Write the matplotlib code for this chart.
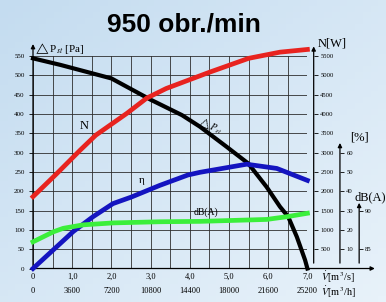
import numpy as np
import matplotlib
matplotlib.use("Agg")
import matplotlib.pyplot as plt

# curves, x = flow in m3/s
dp_x = [0, 0.7, 2.0, 3.0, 3.8, 4.26, 4.94, 5.49, 5.96, 6.30, 6.51, 6.73, 6.94, 7.0]
dp_pa = [544, 527, 492, 437, 397, 367, 315, 272, 211, 160, 134, 82, 22, 0]

n_x = [0, 0.6, 1.2, 1.6, 2.4, 2.9, 3.4, 4.5, 5.5, 6.3, 7.0]
n_w = [1860, 2450, 3060, 3450, 4020, 4410, 4660, 5080, 5440, 5600, 5670]

eta_x = [0, 1.03, 1.53, 2.04, 2.51, 3.23, 3.95, 4.26, 5.45, 6.22, 7.0]
eta_pct = [0, 19.2, 26.8, 33.6, 37.0, 43.0, 48.4, 49.8, 54.0, 51.8, 45.6]

db_x = [0, 0.52, 0.77, 1.28, 2.04, 3.23, 4.26, 5.96, 6.47, 7.0]
db_val = [85.95, 87.25, 87.7, 88.15, 88.4, 88.55, 88.6, 88.85, 89.2, 89.65]

# axis ticks
x_major = [0, 1, 2, 3, 4, 5, 6, 7]
m3s_labels = ["0", "1,0", "2,0", "3,0", "4,0", "5,0", "6,0", "7,0"]
m3h_labels = ["0", "3600", "7200", "10800", "14400", "18000", "21600", "25200"]
pa_ticks = list(range(0, 551, 50))
w_ticks = list(range(500, 5501, 500))
pct_ticks = [10, 20, 30, 40, 50, 60]
db_ticks = [85, 90]

serif = ["Liberation Serif", "DejaVu Serif"]
plt.rcParams["mathtext.fontset"] = "stix"

fig = plt.figure(figsize=(3.86, 3.02), dpi=100)

# light blue background
bg = fig.add_axes([0, 0, 1, 1], zorder=-10)
gx, gy = np.meshgrid(np.linspace(0, 1, 50), np.linspace(0, 1, 50))
g = 0.5 * gx + 0.5 * gy
c0 = np.array([196, 220, 240]) / 255
c1 = np.array([232, 242, 250]) / 255
img = c0[None, None, :] * (1 - g[..., None]) + c1[None, None, :] * g[..., None]
bg.imshow(img, aspect="auto", extent=[0, 1, 0, 1])
bg.axis("off")

ax = fig.add_axes([0.0855, 0.1109, 0.7109, 0.7036])
ax.set_facecolor("none")
ax.set_xlim(0, 7)
ax.set_ylim(0, 550)
for s in ax.spines.values():
    s.set_visible(False)

ax.set_xticks(x_major, labels=m3s_labels, fontfamily=serif, fontsize=6)
ax.set_xticks(np.arange(0, 7.01, 0.5), minor=True)
ax.set_yticks(pa_ticks, labels=[str(v) for v in pa_ticks], fontfamily=serif, fontsize=5)
ax.tick_params(axis="x", which="both", length=0, pad=3)
ax.tick_params(axis="y", length=3, width=0.6, pad=3, direction="out")
ax.grid(True, which="both", color="#2e2e2e", lw=0.6)

sec = ax.secondary_xaxis("bottom")
sec.set_xticks(x_major, labels=m3h_labels, fontfamily=serif, fontsize=6)
sec.tick_params(length=0, pad=13.5)
sec.spines["bottom"].set_visible(False)

# extra vertical scales on the right
def side_axis(pos, lims, ticks):
    a = ax.twinx()
    a.set_ylim(*lims)
    for s in a.spines.values():
        s.set_visible(False)
    a.spines["right"].set_position(("axes", pos))
    a.set_yticks(ticks, labels=[str(t) for t in ticks], fontfamily=serif, fontsize=4.8)
    a.tick_params(axis="y", length=3, width=0.6, pad=1.5, direction="out")
    return a

ax_n = side_axis(1.024, (0, 5500), w_ticks)
ax_pct = side_axis(1.1188, (0, 110), pct_ticks)
ax_db = side_axis(1.188, (82.5, 110), db_ticks)

# axis arrows, drawn in main data coords
arr = dict(arrowstyle="-|>", lw=0.9, color="black", mutation_scale=6, shrinkA=0, shrinkB=0)
for x0, y0, x1, y1 in [(0, 0, 8.72, 0), (0, 0, 0, 581), (7.16, 14, 7.16, 575),
                       (7.83, 14, 7.83, 325), (8.32, 14, 8.32, 170)]:
    ax.annotate("", xy=(x1, y1), xytext=(x0, y0), arrowprops=arr, annotation_clip=False)

lw = 3.4
ax.plot(dp_x, dp_pa, color="black", lw=3.0, clip_on=False, zorder=5)
ax_n.plot(n_x, n_w, color="#e8231f", lw=lw, clip_on=False, zorder=4)
ax_pct.plot(eta_x, eta_pct, color="#1414c0", lw=lw, clip_on=False, zorder=4)
ax_db.plot(db_x, db_val, color="#3bef3b", lw=lw, clip_on=False, zorder=3)

# curve names
ax.text(1.30, 369, "N", fontfamily=serif, fontsize=9, ha="center", va="center")
ax.text(4.52, 369, r"$\triangle P_{st}$", fontsize=7, ha="center", va="center", rotation=-20)
ax.text(2.77, 229, "η", fontfamily=serif, fontsize=8, ha="center", va="center")
ax.text(4.41, 147, "dB(A)", fontfamily=serif, fontsize=7, ha="center", va="center")

# axis names
ax.text(0.03, 570, r"$\triangle$P$_{st}$ [Pa]", fontfamily=serif, fontsize=8, ha="left", va="center")
ax.text(7.27, 582, "N[W]", fontfamily=serif, fontsize=9, ha="left", va="center")
ax.text(8.09, 338, "[%]", fontfamily=serif, fontsize=9, ha="left", va="center")
ax.text(8.21, 185, "dB(A)", fontfamily=serif, fontsize=9, ha="left", va="center", clip_on=False)
ax.text(7.35, -22, r"$\dot{V}$[m$^3$/s]", fontfamily=serif, fontsize=7.5, ha="left", va="center")
ax.text(7.35, -61, r"$\dot{V}$[m$^3$/h]", fontfamily=serif, fontsize=7.5, ha="left", va="center")

fig.text(0.477, 0.9205, "950 obr./min", fontfamily="Liberation Sans", fontweight="bold",
         fontsize=19, ha="center", va="center")

fig.savefig("out.png", dpi=100)
